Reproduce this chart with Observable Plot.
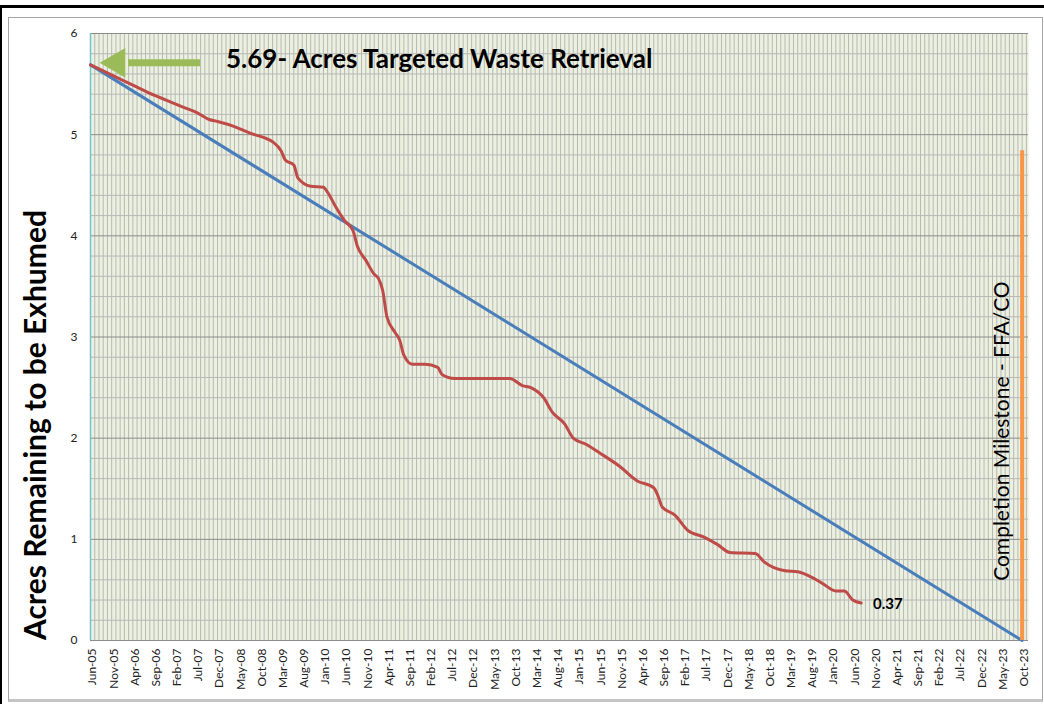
<!DOCTYPE html>
<html><head><meta charset="utf-8">
<script src="https://cdn.jsdelivr.net/npm/d3@7"></script>
<script src="https://cdn.jsdelivr.net/npm/@observablehq/plot@0.6"></script>
<style>
body{margin:0;background:#fff;}
#wrap{position:relative;width:1044px;height:704px;overflow:hidden;background:#fff;}
.b{position:absolute;}
</style></head><body>
<div id="wrap">
 <div class="b" style="left:0;top:5px;width:1044px;height:3px;background:#000"></div>
 <div class="b" style="left:0;top:5px;width:2px;height:699px;background:#000"></div>
 <div class="b" style="left:8px;top:17px;width:1033px;height:681px;border:1px solid #a6a6a6;border-bottom:3px solid #c4c4c4;"></div>
 <div id="chart" class="b" style="left:0;top:0"></div>
</div>
<script>
// Month labels shown every 5 months (month index 0 = Jun-05)
const tickLabels = ["Jun-05","Nov-05","Apr-06","Sep-06","Feb-07","Jul-07","Dec-07","May-08","Oct-08","Mar-09",
  "Aug-09","Jan-10","Jun-10","Nov-10","Apr-11","Sep-11","Feb-12","Jul-12","Dec-12","May-13","Oct-13","Mar-14",
  "Aug-14","Jan-15","Jun-15","Nov-15","Apr-16","Sep-16","Feb-17","Jul-17","Dec-17","May-18","Oct-18","Mar-19",
  "Aug-19","Jan-20","Jun-20","Nov-20","Apr-21","Sep-21","Feb-22","Jul-22","Dec-22","May-23","Oct-23"];
const tickMonths = tickLabels.map((_, i) => i * 5);

// Planned (blue) line
const plannedMonth = [0, 220];
const plannedAcres = [5.69, 0];

// Actual (red) line, months since Jun-05
const actualMonth = [0,3,7,11,15,18,22,25,28,30,34,38,41,43,45,46,48,49,52,55,56,58,60,62,63,65,67,68,69,70,72,73,74,76,79,82,83,86,99,102,104,107,109,112,114,117,120,125,129,133,134,135,138,141,145,148,151,157,159,164,167,171,173,176,178,180,182];
const actualAcres = [5.69,5.63,5.55,5.47,5.39,5.34,5.27,5.22,5.15,5.13,5.08,5.01,4.97,4.93,4.84,4.75,4.70,4.57,4.49,4.48,4.43,4.28,4.15,4.05,3.90,3.76,3.62,3.58,3.46,3.20,3.04,2.97,2.82,2.73,2.73,2.70,2.63,2.59,2.59,2.52,2.50,2.40,2.26,2.14,2.00,1.94,1.86,1.72,1.58,1.51,1.43,1.32,1.24,1.09,1.02,0.95,0.87,0.86,0.78,0.69,0.68,0.61,0.56,0.49,0.49,0.40,0.37];

const milestoneMonth = [220];
const milestoneTop = [4.84];

const planned = plannedMonth.map((m, i) => ({m, v: plannedAcres[i]}));
const actual = actualMonth.map((m, i) => ({m, v: actualAcres[i]}));

const monthGrid = d3.range(1, 222);
const minorY = d3.range(1, 30).filter(i => i % 5 !== 0).map(i => i / 5);
const majorY = d3.range(0, 7);

const green = "#9BBB59";
const font = "Lato, 'Open Sans', sans-serif";

const chart = Plot.plot({
  width: 1044, height: 704,
  marginLeft: 90, marginRight: 16, marginTop: 33, marginBottom: 64,
  style: {background: "transparent", fontFamily: font, overflow: "visible"},
  x: {type: "linear", domain: [0, 221.5], axis: null},
  y: {domain: [0, 6], axis: null},
  marks: [
    Plot.frame({fill: "#EBF0DF", stroke: null}),
    Plot.ruleX(monthGrid, {stroke: "#B8B8B8", strokeWidth: 1}),
    Plot.ruleY(minorY, {stroke: "#B8B8B8", strokeWidth: 1}),
    Plot.ruleY(majorY, {stroke: "#8C8C8C", strokeWidth: 1}),
    Plot.ruleX([0], {stroke: "#72C3D6", strokeWidth: 1.5}),
    Plot.axisX({ticks: tickMonths, tickFormat: (d) => tickLabels[d / 5], tickRotate: -90, tickSize: 0,
      tickPadding: 8, fontSize: 12, fill: "#222", label: null, dx: 2}),
    Plot.axisY({ticks: majorY, tickFormat: d3.format("d"), tickSize: 0, tickPadding: 13, fontSize: 12, fill: "#222", label: null}),
    Plot.line(planned, {x: "m", y: "v", stroke: "#4A7EBB", strokeWidth: 3}),
    Plot.line(actual, {x: "m", y: "v", stroke: "#BE4B48", strokeWidth: 3, curve: "monotone-x"}),
    Plot.ruleX(milestoneMonth, {y1: 0, y2: milestoneTop, stroke: "#F79646", strokeWidth: 4}),
    // green arrow
    Plot.ruleY([5.71], {x1: 9, x2: 26, stroke: green, strokeWidth: 7}),
    Plot.dot([{m: 6.2, v: 5.71}], {x: "m", y: "v", symbol: "triangle", r: 11, rotate: -90, fill: green, stroke: null}),
    Plot.text(["5.69- Acres Targeted Waste Retrieval"], {x: 32, y: 5.74, text: d => d, textAnchor: "start",
      fontSize: 26, fontWeight: "bold", fill: "#000"}),
    Plot.text(["0.37"], {x: 184.8, y: 0.36, text: d => d, textAnchor: "start", fontSize: 15, fontWeight: "bold", fill: "#000"}),
    Plot.text(["Completion Milestone - FFA/CO"], {x: 215.3, y: 2.07, text: d => d, rotate: -90, fontSize: 21, fill: "#000"})
  ]
});

d3.select(chart).append("text")
  .attr("transform", "translate(38,425) rotate(-90)")
  .attr("text-anchor", "middle")
  .attr("dominant-baseline", "middle")
  .style("font-family", font)
  .style("font-size", "30px")
  .style("font-weight", "bold")
  .attr("fill", "#000")
  .text("Acres Remaining to be Exhumed");

document.getElementById("chart").appendChild(chart);
</script>
</body></html>
